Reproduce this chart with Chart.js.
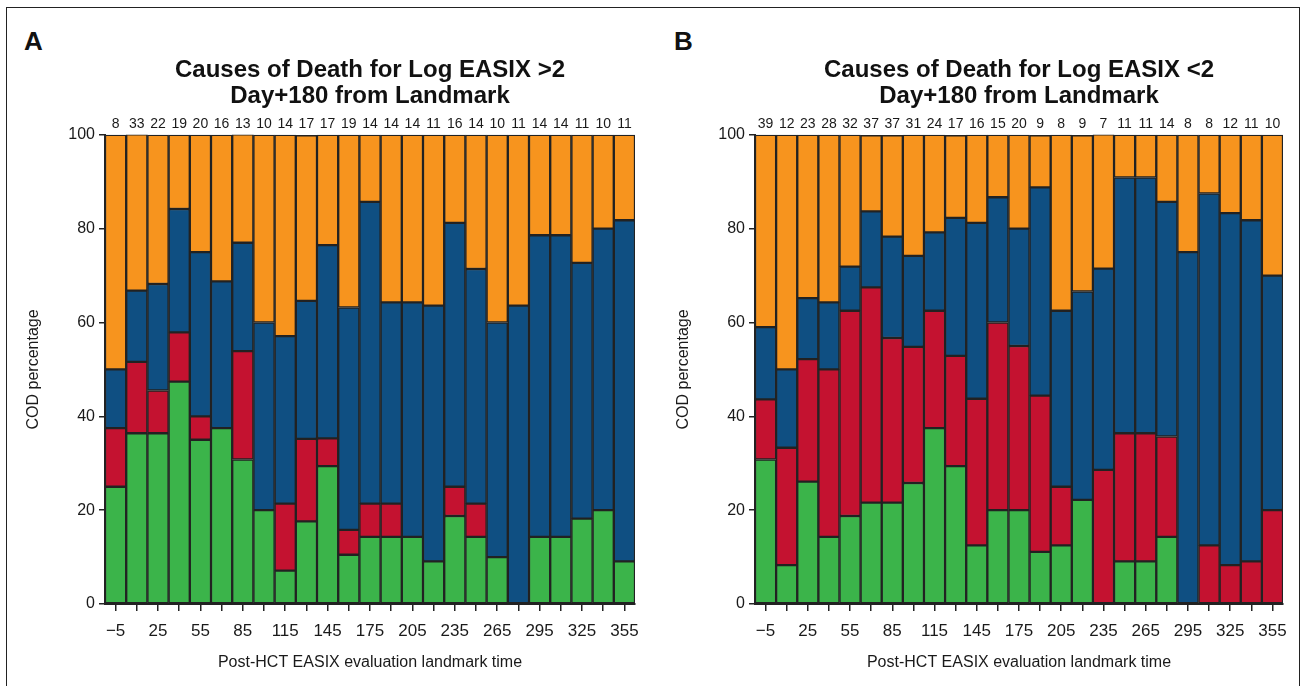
<!DOCTYPE html>
<html>
<head>
<meta charset="utf-8">
<script src="https://cdn.jsdelivr.net/npm/chart.js@4.4.1/dist/chart.umd.min.js"></script>
<style>
  html, body { margin: 0; padding: 0; background: #fff; }
  body { width: 1306px; height: 686px; position: relative; overflow: hidden; font-family: 'Liberation Sans', Arial, sans-serif; }
  .frame { position: absolute; left: 6px; top: 7px; width: 1292px; height: 720px; border: 1px solid #222; }
  .panel-label { position: absolute; top: 26px; font-weight: bold; font-size: 26px; color: #111; }
  canvas { position: absolute; top: 0; }
</style>
</head>
<body>
<div class="frame"></div>
<div class="panel-label" style="left:24px">A</div>
<div class="panel-label" style="left:674px">B</div>
<canvas id="chartA" width="650" height="686" style="left:0px"></canvas>
<canvas id="chartB" width="656" height="686" style="left:650px"></canvas>
<script>
// ---- data ----
const landmarkTimes = [-5, 10, 25, 40, 55, 70, 85, 100, 115, 130, 145, 160, 175, 190, 205, 220, 235, 250, 265, 280, 295, 310, 325, 340, 355];
const xTickLabels = ['−5', '25', '55', '85', '115', '145', '175', '205', '235', '265', '295', '325', '355'];
const yTickValues = [0, 20, 40, 60, 80, 100];

const titleA = ['Causes of Death for Log EASIX >2', 'Day+180 from Landmark'];
const titleB = ['Causes of Death for Log EASIX <2', 'Day+180 from Landmark'];

// number of deaths shown above each bar
const countsA = [8, 33, 22, 19, 20, 16, 13, 10, 14, 17, 17, 19, 14, 14, 14, 11, 16, 14, 10, 11, 14, 14, 11, 10, 11];
const countsB = [39, 12, 23, 28, 32, 37, 37, 31, 24, 17, 16, 15, 20, 9, 8, 9, 7, 11, 11, 14, 8, 8, 12, 11, 10];

// segment percentages (bottom to top): green, red, blue, orange
const greenA  = [25, 36.4, 36.4, 47.4, 35, 37.5, 30.8, 20, 7.1, 17.6, 29.4, 10.5, 14.3, 14.3, 14.3, 9.1, 18.75, 14.3, 10, 0, 14.3, 14.3, 18.2, 20, 9.1];
const redA    = [12.5, 15.2, 9.1, 10.5, 5, 0, 23.1, 0, 14.3, 17.6, 5.9, 5.3, 7.1, 7.1, 0, 0, 6.25, 7.1, 0, 0, 0, 0, 0, 0, 0];
const blueA   = [12.5, 15.2, 22.7, 26.3, 35, 31.25, 23.1, 40, 35.7, 29.4, 41.2, 47.4, 64.3, 42.9, 50, 54.5, 56.25, 50, 50, 63.6, 64.3, 64.3, 54.5, 60, 72.7];
const orangeA = [50, 33.3, 31.8, 15.8, 25, 31.25, 23.1, 40, 42.9, 35.3, 23.5, 36.8, 14.3, 35.7, 35.7, 36.4, 18.75, 28.6, 40, 36.4, 21.4, 21.4, 27.3, 20, 18.2];

const greenB  = [30.8, 8.3, 26.1, 14.3, 18.75, 21.6, 21.6, 25.8, 37.5, 29.4, 12.5, 20, 20, 11.1, 12.5, 22.2, 0, 9.1, 9.1, 14.3, 0, 0, 0, 0, 0];
const redB    = [12.8, 25, 26.1, 35.7, 43.75, 45.9, 35.1, 29.0, 25, 23.5, 31.25, 40, 35, 33.3, 12.5, 0, 28.6, 27.3, 27.3, 21.4, 0, 12.5, 8.3, 9.1, 20];
const blueB   = [15.4, 16.7, 13.0, 14.3, 9.4, 16.2, 21.6, 19.4, 16.7, 29.4, 37.5, 26.7, 25, 44.4, 37.5, 44.4, 42.9, 54.5, 54.5, 50, 75, 75, 75, 72.7, 50];
const orangeB = [41.0, 50, 34.8, 35.7, 28.1, 16.2, 21.6, 25.8, 20.8, 17.6, 18.75, 13.3, 20, 11.1, 37.5, 33.3, 28.6, 9.1, 9.1, 14.3, 25, 12.5, 16.7, 18.2, 30];

// ---- styling ----
const COLORS = { green: '#3bb44a', red: '#c41230', blue: '#0f4f82', orange: '#f7941e' };
const EDGE = '#222222';
Chart.defaults.font.family = "'Liberation Sans', Arial, Helvetica, sans-serif";
Chart.defaults.color = '#1a1a1a';

const countLabels = {
  id: 'countLabels',
  afterDraw(chart, args, opts) {
    const { ctx, chartArea, scales } = chart;
    ctx.save();
    ctx.font = "14px 'Liberation Sans', Arial, sans-serif";
    ctx.fillStyle = '#1a1a1a';
    ctx.textAlign = 'center';
    ctx.textBaseline = 'middle';
    opts.counts.forEach((c, i) => {
      ctx.fillText(String(c), scales.x.getPixelForValue(i), chartArea.top - 11);
    });
    ctx.restore();
  }
};

function makeChart(id, title, counts, g, r, b, o, padLeft, padRight) {
  const ds = (label, data, color) => ({
    label, data, backgroundColor: color, borderColor: EDGE, borderWidth: 1.5,
    borderSkipped: false, categoryPercentage: 1.0, barPercentage: 1.0
  });
  return new Chart(document.getElementById(id), {
    type: 'bar',
    data: {
      labels: landmarkTimes,
      datasets: [
        ds('Green', g, COLORS.green),
        ds('Red', r, COLORS.red),
        ds('Blue', b, COLORS.blue),
        ds('Orange', o, COLORS.orange)
      ]
    },
    options: {
      responsive: false,
      animation: false,
      devicePixelRatio: 1,
      layout: { padding: { top: 57, left: padLeft, right: padRight, bottom: 0 } },
      plugins: {
        legend: { display: false },
        tooltip: { enabled: false },
        title: {
          display: true, text: title, fullSize: false, color: '#111',
          font: { size: 24, weight: 'bold', lineHeight: 1.08 },
          padding: { top: 0, bottom: 26 }
        },
        countLabels: { counts }
      },
      scales: {
        x: {
          stacked: true,
          offset: true,
          grid: { display: true, offset: false, drawOnChartArea: false, drawTicks: true, tickLength: 7, color: EDGE, lineWidth: 1.5 },
          border: { display: true, color: EDGE, width: 2 },
          ticks: {
            autoSkip: false, maxRotation: 0, minRotation: 0, padding: 10,
            font: { size: 17 }, color: '#1a1a1a',
            callback: (v, i) => (i % 2 === 0 ? xTickLabels[i / 2] : '')
          },
          title: { display: true, text: 'Post-HCT EASIX evaluation landmark time', font: { size: 16 }, color: '#1a1a1a', padding: { top: 0, bottom: 14 } },
          afterFit: (s) => { s.height = 82; }
        },
        y: {
          stacked: true, min: 0, max: 100,
          afterBuildTicks: (s) => { s.ticks = yTickValues.map(v => ({ value: v })); },
          grid: { display: true, drawOnChartArea: false, drawTicks: true, tickLength: 6, color: EDGE, lineWidth: 1.5 },
          border: { display: true, color: EDGE, width: 2 },
          ticks: { font: { size: 16 }, padding: 4, color: '#1a1a1a' },
          title: { display: true, text: 'COD percentage', font: { size: 16 }, color: '#1a1a1a', padding: { top: 8, bottom: 0 } },
          afterFit: (s) => { s.width = 105 - padLeft; }
        }
      }
    },
    plugins: [countLabels]
  });
}

makeChart('chartA', titleA, countsA, greenA, redA, blueA, orangeA, 16, 15);
makeChart('chartB', titleB, countsB, greenB, redB, blueB, orangeB, 16, 23);
</script>
</body>
</html>
